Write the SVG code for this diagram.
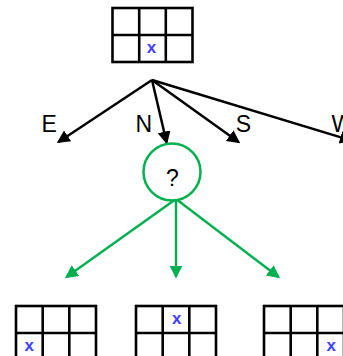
<svg xmlns="http://www.w3.org/2000/svg" width="343" height="356" viewBox="0 0 343 356">
<style>
.grid{fill:none;stroke:#000;stroke-width:2.6}
.mark{font-family:"Liberation Sans",Arial,sans-serif;font-weight:bold;font-size:17px;fill:#4040ff;text-anchor:middle}
.lbl{font-family:"Liberation Sans",Arial,sans-serif;font-size:23px;fill:#000}
.blk{stroke:#000;stroke-width:2.5;fill:none}
.grn{stroke:#00b050;stroke-width:2.4;fill:none}
</style>
<defs>
<marker id="ab" markerUnits="userSpaceOnUse" markerWidth="14" markerHeight="14" refX="11" refY="6.5" orient="auto"><path d="M0,0 L13,6.5 L0,13 z" fill="#000"/></marker>
<marker id="ag" markerUnits="userSpaceOnUse" markerWidth="14" markerHeight="14" refX="11" refY="6.5" orient="auto"><path d="M0,0 L13,6.5 L0,13 z" fill="#00b050"/></marker>
<g id="gridshape"><rect x="0" y="0" width="80" height="54"/><line x1="26.7" y1="0" x2="26.7" y2="54"/><line x1="53.3" y1="0" x2="53.3" y2="54"/><line x1="0" y1="27" x2="80" y2="27"/></g>
</defs>
<g id="connectors">
<line class="blk" x1="152" y1="80" x2="58.5" y2="142" marker-end="url(#ab)"/>
<line class="blk" x1="152" y1="80" x2="166.6" y2="142.5" marker-end="url(#ab)"/>
<line class="blk" x1="152" y1="80" x2="238.6" y2="142" marker-end="url(#ab)"/>
<line class="blk" x1="152" y1="80" x2="351" y2="140.5" marker-end="url(#ab)"/>
<line class="grn" x1="176" y1="199" x2="66.5" y2="277" marker-end="url(#ag)"/>
<line class="grn" x1="176" y1="199" x2="176" y2="276.5" marker-end="url(#ag)"/>
<line class="grn" x1="176" y1="199" x2="278.5" y2="277" marker-end="url(#ag)"/>
</g>
<g id="labels">
<text class="lbl" x="41.5" y="132">E</text>
<text class="lbl" x="135.6" y="132">N</text>
<text class="lbl" x="235.7" y="132">S</text>
<text class="lbl" x="331.5" y="132">W</text>
</g>
<g id="root"><use href="#gridshape" class="grid" x="112.5" y="8"/><text class="mark" x="151.5" y="52.5">x</text></g>
<g id="question"><circle cx="172" cy="172" r="28.5" fill="#fff" stroke="#00b050" stroke-width="2.5"/><text class="lbl" x="172.3" y="186" text-anchor="middle">?</text></g>
<g id="child1"><use href="#gridshape" class="grid" x="16" y="306"/><text class="mark" x="29.3" y="351">x</text></g>
<g id="child2"><use href="#gridshape" class="grid" x="136" y="306"/><text class="mark" x="176.7" y="324.3">x</text></g>
<g id="child3"><use href="#gridshape" class="grid" x="264" y="306"/><text class="mark" x="331.3" y="351">x</text></g>
</svg>
